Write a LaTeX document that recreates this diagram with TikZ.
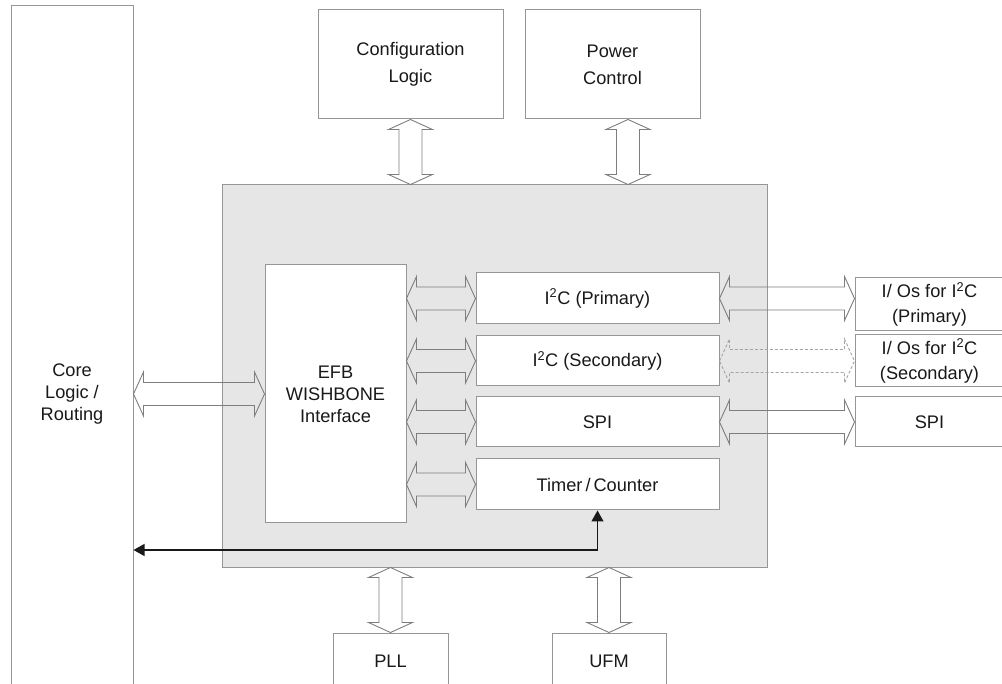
\documentclass[tikz,border=0pt]{standalone}
\usepackage{fontspec}
\setmainfont{Liberation Sans}
\usetikzlibrary{calc,arrows.meta}
\definecolor{boxline}{RGB}{150,150,150}
\definecolor{arrline}{RGB}{125,125,125}
\definecolor{grayfill}{RGB}{230,230,230}
\definecolor{txt}{RGB}{25,25,25}
\definecolor{blk}{RGB}{25,25,25}
\begin{document}
\begin{tikzpicture}[x=1pt,y=-1pt,
  box/.style={draw=boxline, line width=1pt, fill=white, inner sep=0pt, align=center,
    text=txt, font=\fontsize{18.2}{22}\selectfont},
  widelines/.style={font=\fontsize{18.2}{27}\selectfont},
  iolines/.style={font=\fontsize{18.2}{25}\selectfont},
  fatline/.style={draw=arrline, line width=0.9pt, line join=miter},
  dashline/.style={draw=arrline!70, line width=0.9pt, dash pattern=on 3pt off 2pt},
  hfat/.style={to path={let \p1=(\tikztostart), \p2=(\tikztotarget) in
     -- (\x1+10pt,\y1+22pt) -- (\x1+10pt,\y1+11.5pt) -- (\x2-10pt,\y1+11.5pt)
     -- (\x2-10pt,\y1+22pt) -- (\x2,\y1) -- (\x2-10pt,\y1-22pt)
     -- (\x2-10pt,\y1-11.5pt) -- (\x1+10pt,\y1-11.5pt) -- (\x1+10pt,\y1-22pt) -- cycle}},
  vfat/.style={to path={let \p1=(\tikztostart), \p2=(\tikztotarget) in
     -- (\x1+22pt,\y1-10pt) -- (\x1+11.5pt,\y1-10pt) -- (\x1+11.5pt,\y2+10pt)
     -- (\x1+22pt,\y2+10pt) -- (\x1,\y2) -- (\x1-22pt,\y2+10pt)
     -- (\x1-11.5pt,\y2+10pt) -- (\x1-11.5pt,\y1-10pt) -- (\x1-22pt,\y1-10pt) -- cycle}},
  sig/.style={draw=blk, line width=1.3pt, {Triangle[length=11pt,width=12pt]}-{Triangle[length=11pt,width=12pt]}}
]
\useasboundingbox (0,0) rectangle (1002,684);
\clip (0,0) rectangle (1002,684);

% core logic (open at the bottom, runs off the page)
\node[box, minimum width=122pt, minimum height=776pt] (core) at (72,394) {Core\\Logic /\\Routing};

% top blocks
\node[box, widelines, minimum width=185pt, minimum height=109pt] (config) at (410.5,64.5) {Configuration\\Logic};
\node[box, widelines, minimum width=175pt, minimum height=109pt] (power) at (612.5,64.5) {Power\\Control};

% EFB gray container
\node[draw=boxline, line width=1pt, fill=grayfill, inner sep=0pt, minimum width=545pt, minimum height=382pt] (efbblock) at (494.5,376) {};

% inside blocks
\node[box, minimum width=141pt, minimum height=258pt] (efb) at (335.5,394) {EFB\\WISHBONE\\Interface};
\node[box, minimum width=243pt, minimum height=51pt] (i2cp) at (597.5,298.5) {I\textsuperscript{2}C (Primary)};
\node[box, minimum width=243pt, minimum height=50pt] (i2cs) at (597.5,361) {I\textsuperscript{2}C (Secondary)};
\node[box, minimum width=243pt, minimum height=50pt] (spi) at (597.5,422) {SPI};
\node[box, minimum width=243pt, minimum height=51pt] (timer) at (597.5,484.5) {Timer\,/\,Counter};

% right-hand I/O blocks (run off the page)
\node[box, iolines, minimum width=149pt, minimum height=53pt] (iop) at (929.5,304.5) {I/ Os for I\textsuperscript{2}C\\(Primary)};
\node[box, iolines, minimum width=149pt, minimum height=52pt] (ios) at (929.5,361) {I/ Os for I\textsuperscript{2}C\\(Secondary)};
\node[box, minimum width=149pt, minimum height=50pt] (spio) at (929.5,422) {SPI};

% bottom blocks (run off the page)
\node[box, minimum width=115pt, minimum height=56pt] (pll) at (390.5,661) {PLL};
\node[box, minimum width=114pt, minimum height=56pt] (ufm) at (609,661) {UFM};

\coordinate (pcx) at (628,0);
\coordinate (bend) at (0,550);

% fat double arrows
\draw[fatline] (core.east |- efb.west) to[hfat] (efb.west);
\draw[fatline] (efb.east |- i2cp.west) to[hfat] (i2cp.west);
\draw[fatline] (efb.east |- i2cs.west) to[hfat] (i2cs.west);
\draw[fatline] (efb.east |- spi.west) to[hfat] (spi.west);
\draw[fatline] (efb.east |- timer.west) to[hfat] (timer.west);
\draw[fatline] (i2cp.east) to[hfat] (iop.west |- i2cp.east);
\draw[dashline] (i2cs.east) to[hfat] (ios.west |- i2cs.east);
\draw[fatline] (spi.east) to[hfat] (spio.west |- spi.east);
\draw[fatline] (config.south) to[vfat] (efbblock.north -| config.south);
\draw[fatline] (power.south -| pcx) to[vfat] (efbblock.north -| pcx);
\draw[fatline] (efbblock.south -| pll.north) to[vfat] (pll.north);
\draw[fatline] (efbblock.south -| ufm.north) to[vfat] (ufm.north);

% timer signal back to core logic
\draw[sig] (timer.south) |- (core.east |- bend);
\end{tikzpicture}
\end{document}
